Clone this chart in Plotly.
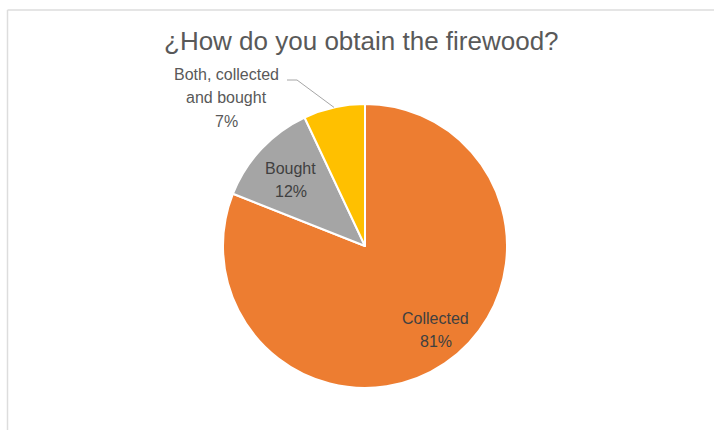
import math
import plotly.graph_objects as go

# ---- data ----
title_text = "¿How do you obtain the firewood?"
labels = ["Collected", "Bought", "Both, collected<br>and bought"]
values = [81, 12, 7]
colors = ["#ED7D31", "#A5A5A5", "#FFC000"]

W, H = 714, 430
CX, CY, R = 365, 246, 142  # pie centre / radius in pixels
LINE = 23                  # label line spacing in pixels

FONT = "Liberation Sans, Arial, sans-serif"


def px(x):
    return x / W


def py(y):
    return 1 - y / H


fig = go.Figure()
fig.add_trace(go.Pie(
    labels=labels,
    values=values,
    sort=False,
    direction="clockwise",
    rotation=0,
    marker=dict(colors=colors, line=dict(color="white", width=2)),
    textinfo="none",
    hoverinfo="label+percent",
    showlegend=False,
    domain=dict(x=[px(CX - R), px(CX + R)], y=[py(CY + R), py(CY - R)]),
))

total = sum(values)
starts = []
acc = 0
for v in values:
    starts.append(acc / total * 360)
    acc += v


def polar(angle_deg, rfrac):
    a = math.radians(angle_deg)
    return CX + rfrac * R * math.sin(a), CY - rfrac * R * math.cos(a)


annotations = []


def add_label(cx, cy, lines, color):
    n = len(lines)
    for k, line in enumerate(lines):
        yy = cy + (k - (n - 1) / 2) * LINE
        annotations.append(dict(
            x=px(cx), y=py(yy), xref="paper", yref="paper",
            xanchor="center", yanchor="middle",
            text=line, showarrow=False,
            font=dict(family=FONT, size=16, color=color),
        ))


# label placement: (fraction of slice angle, fraction of radius)
placement = [(0.48, 0.775), (0.465, 0.70)]
for i, (fa, fr) in enumerate(placement):
    ang = starts[i] + fa * values[i] / total * 360
    x, y = polar(ang, fr)
    add_label(x, y, labels[i].split("<br>") + [f"{round(values[i] / total * 100)}%"], "#404040")

# outside label for the small slice
i = 2
add_label(226, 98, labels[i].split("<br>") + [f"{round(values[i] / total * 100)}%"], "#595959")

# title
annotations.append(dict(
    x=px(361), y=py(41), xref="paper", yref="paper",
    xanchor="center", yanchor="middle",
    text=title_text, showarrow=False,
    font=dict(family=FONT, size=26, color="#595959"),
))

# leader line from the outside label to the slice edge
mid_both = starts[2] + values[2] / total * 360 / 2
ex, ey = polar(mid_both, 1.0)
leader = f"M {px(287)},{py(80)} L {px(297)},{py(80)} L {px(ex)},{py(ey)}"

shapes = [
    dict(type="path", path=leader, xref="paper", yref="paper",
         line=dict(color="#A6A6A6", width=1)),
    # chart border (left and top visible)
    dict(type="line", xref="paper", yref="paper",
         x0=px(7.5), y0=0, x1=px(7.5), y1=py(10), line=dict(color="#DDDDDD", width=1.5)),
    dict(type="line", xref="paper", yref="paper",
         x0=px(7.5), y0=py(10), x1=1, y1=py(10), line=dict(color="#DDDDDD", width=1.5)),
]

fig.update_layout(
    width=W, height=H,
    margin=dict(l=0, r=0, t=0, b=0),
    paper_bgcolor="white", plot_bgcolor="white",
    annotations=annotations, shapes=shapes,
)

fig.write_html(
    "out.html",
    config={"displayModeBar": False},
    post_script="document.body.style.margin='0';document.body.style.overflow='hidden';",
)
